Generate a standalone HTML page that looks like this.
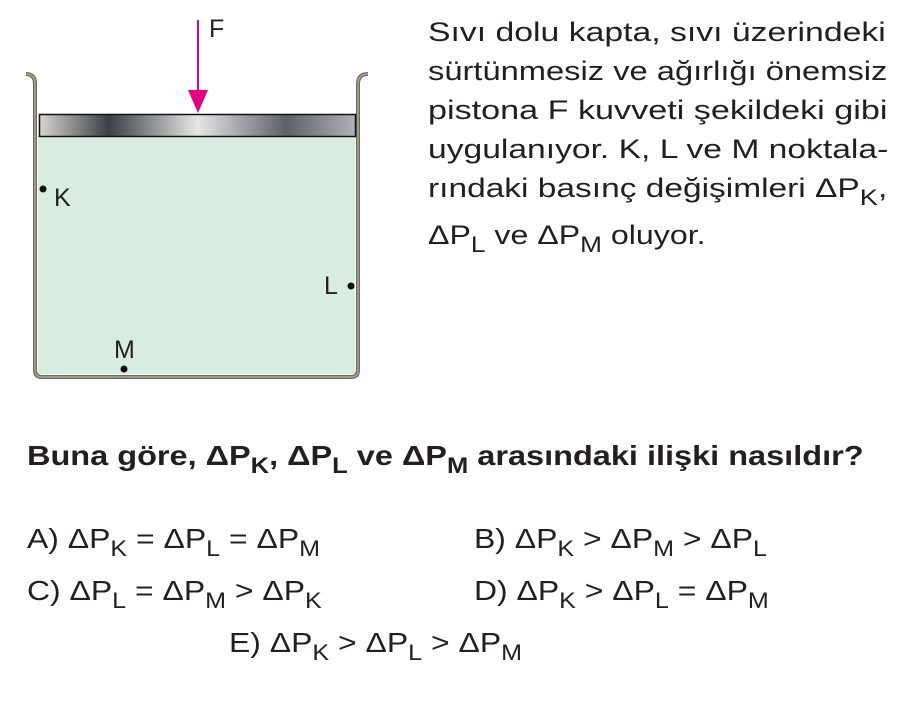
<!DOCTYPE html>
<html><head><meta charset="utf-8"><style>
body{margin:0;width:921px;height:702px;background:#fff;position:relative;overflow:hidden;font-family:"Liberation Sans",Arial,sans-serif;color:#231f20}
.t{position:absolute;font-size:28px;white-space:nowrap;transform-origin:0 50%}
sub{font-size:22px;vertical-align:-8px;line-height:0}
</style></head><body>
<svg width="400" height="400" style="position:absolute;left:0;top:0">
<defs><linearGradient id="g" x1="0" x2="1">
<stop offset="0" stop-color="#d8d4d0"/><stop offset="0.22" stop-color="#3a4044"/><stop offset="0.5" stop-color="#e6e6e8"/><stop offset="0.78" stop-color="#5e6168"/><stop offset="1" stop-color="#b0b2b6"/></linearGradient></defs>
<rect x="38" y="136" width="317" height="238" fill="#d8ece0"/>
<path d="M26 74 Q35 74 35 84 L35 370 Q35 377 42 377 L351 377 Q358 377 358 370 L358 84 Q358 74 368 74" fill="none" stroke="#6e6b5e" stroke-width="4"/>
<path d="M26 74 Q35 74 35 84 L35 370 Q35 377 42 377 L351 377 Q358 377 358 370 L358 84 Q358 74 368 74" fill="none" stroke="#a9a796" stroke-width="1.5"/>
<rect x="39.5" y="114.5" width="316" height="22" fill="url(#g)" stroke="#111" stroke-width="1.5"/>
<line x1="198" y1="20" x2="198" y2="95" stroke="#e4007f" stroke-width="2"/>
<polygon points="188,90 208,90 198,113" fill="#e4007f"/>
<circle cx="43" cy="189" r="3.5" fill="#111"/>
<circle cx="351" cy="286" r="3.5" fill="#111"/>
<circle cx="124" cy="369" r="3.5" fill="#111"/>
<text x="209" y="37" font-size="25" fill="#231f20" font-family="Liberation Sans">F</text>
<text x="54" y="206" font-size="25" fill="#231f20" font-family="Liberation Sans">K</text>
<text x="324" y="294" font-size="25" fill="#231f20" font-family="Liberation Sans">L</text>
<text x="114" y="358" font-size="25" fill="#231f20" font-family="Liberation Sans">M</text>
</svg>
<div class="t" style="left:428px;top:17px;font-size:27px;transform:scaleX(1.25)">Sıvı dolu kapta, sıvı üzerindeki</div>
<div class="t" style="left:428px;top:56px;font-size:27px;transform:scaleX(1.21)">sürtünmesiz ve ağırlığı önemsiz</div>
<div class="t" style="left:428px;top:95px;font-size:27px;transform:scaleX(1.265)">pistona F kuvveti şekildeki gibi</div>
<div class="t" style="left:428px;top:134px;font-size:27px;transform:scaleX(1.245)">uygulanıyor. K, L ve M noktala-</div>
<div class="t" style="left:428px;top:173px;font-size:27px;transform:scaleX(1.24)">rındaki basınç değişimleri ΔP<sub>K</sub>,</div>
<div class="t" style="left:428px;top:220px;font-size:27px;transform:scaleX(1.19)">ΔP<sub>L</sub> ve ΔP<sub>M</sub> oluyor.</div>
<div class="t" style="left:27px;top:440px;font-weight:bold;font-size:28px;transform:scaleX(1.16)">Buna göre, ΔP<sub>K</sub>, ΔP<sub>L</sub> ve ΔP<sub>M</sub> arasındaki ilişki nasıldır?</div>
<div class="t" style="left:27px;top:523px;transform:scaleX(1.14)">A) ΔP<sub>K</sub> = ΔP<sub>L</sub> = ΔP<sub>M</sub></div>
<div class="t" style="left:474px;top:523px;transform:scaleX(1.14)">B) ΔP<sub>K</sub> &gt; ΔP<sub>M</sub> &gt; ΔP<sub>L</sub></div>
<div class="t" style="left:27px;top:575px;transform:scaleX(1.14)">C) ΔP<sub>L</sub> = ΔP<sub>M</sub> &gt; ΔP<sub>K</sub></div>
<div class="t" style="left:474px;top:575px;transform:scaleX(1.14)">D) ΔP<sub>K</sub> &gt; ΔP<sub>L</sub> = ΔP<sub>M</sub></div>
<div class="t" style="left:229px;top:627px;transform:scaleX(1.14)">E) ΔP<sub>K</sub> &gt; ΔP<sub>L</sub> &gt; ΔP<sub>M</sub></div>
</body></html>
